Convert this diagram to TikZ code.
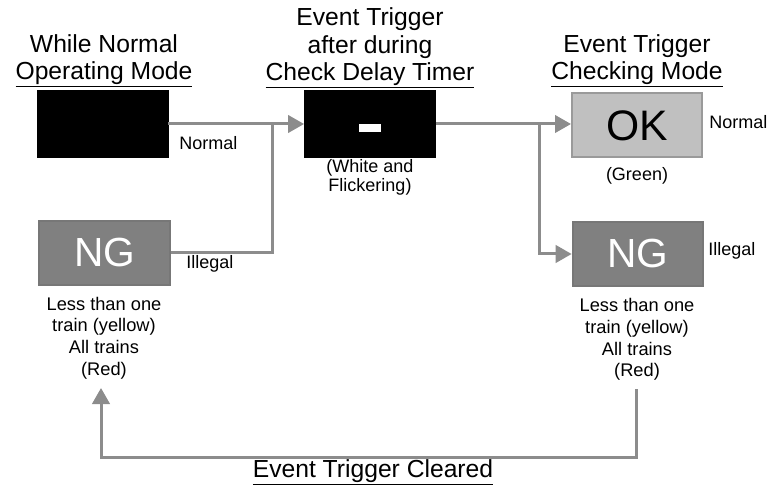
\documentclass[tikz,border=0pt]{standalone}
\usepackage{fontspec}
\setmainfont{Liberation Sans}
\usetikzlibrary{arrows.meta}
\definecolor{ln}{HTML}{8C8C8C}
\definecolor{okfill}{HTML}{C0C0C0}
\definecolor{okdraw}{HTML}{9A9A9A}
\definecolor{ngfill}{HTML}{808080}
\definecolor{ngdraw}{HTML}{777777}
\begin{document}
\begin{tikzpicture}[x=0.75pt,y=-0.75pt,
  blk/.style={draw=black, fill=black, minimum width=98.5pt, minimum height=50pt, inner sep=0pt},
  okbox/.style={draw=okdraw, fill=okfill, line width=1.5pt, minimum width=97.5pt, minimum height=48pt, inner sep=0pt, font=\fontsize{32}{32}\selectfont},
  ngbox/.style={draw=ngdraw, fill=ngfill, line width=1.5pt, minimum width=98pt, minimum height=48.5pt, inner sep=0pt, text=white, font=\fontsize{30.5}{30.5}\selectfont},
  title/.style={font=\fontsize{18.5}{20.3}\selectfont, align=center, inner sep=0pt},
  lbl/.style={font=\fontsize{13.5}{14.3}\selectfont, align=center, inner sep=0pt},
  note/.style={font=\fontsize{13.7}{16.3}\selectfont, align=center, inner sep=0pt},
  conn/.style={draw=ln, line width=2.25pt},
  arr/.style={conn, -{Triangle[length=12pt,width=13pt]}}]
\useasboundingbox (0,0) rectangle (767,488);
% titles
\node[title] (t1) at (104,61) {While Normal\\\underline{Operating Mode}};
\node[title] (t2) at (370,48) {Event Trigger\\after during\\\underline{Check Delay Timer}};
\node[title] (t3) at (637,61) {Event Trigger\\\underline{Checking Mode}};
% boxes
\node[blk] (b1) at (102.5,124) {};
\node[blk] (b2) at (370,124) {};
\node[fill=white, minimum width=17pt, minimum height=6pt, inner sep=0pt] (dash) at (370,128) {};
\node[okbox] (ok) at (637,125.5) {OK};
\node[ngbox] (ngl) at (104.5,253) {NG};
\node[ngbox] (ngr) at (638,254) {NG};
% labels
\node[lbl, anchor=west] (nl1) at (179,143) {Normal};
\node[lbl, anchor=west] (il1) at (186,264) {Illegal};
\node[lbl, anchor=west] (nl2) at (709,122) {Normal};
\node[lbl, anchor=west] (il2) at (708,251) {Illegal};
\node[lbl] (wf) at (370,177) {(White and\\Flickering)};
\node[lbl] (gr) at (637,176) {(Green)};
\node[note] (ll) at (104,338) {Less than one\\train (yellow)\\All trains\\(Red)};
\node[note] (lr) at (637,339.5) {Less than one\\train (yellow)\\All trains\\(Red)};
\node[title] (tc) at (373,472) {\underline{Event Trigger Cleared}};
% connectors
\coordinate (j1) at (272,124);
\coordinate (j2) at (539,124);
\coordinate (c1) at (636,457);
\coordinate (c2) at (101,457);
\coordinate (s1) at (636,389);
\coordinate (e1) at (101,388);
\draw[arr] (b1.east |- j1) -- (b2.west |- j1);
\draw[conn] (ngl.east) -- (ngl.east -| j1) -- (j1);
\draw[arr] (b2.east |- j2) -- (ok.west |- j2);
\draw[arr] (j2) -- (j2 |- ngr.west) -- (ngr.west);
\draw[arr] (s1) -- (c1) -- (c2) -- (e1);
\end{tikzpicture}
\end{document}
